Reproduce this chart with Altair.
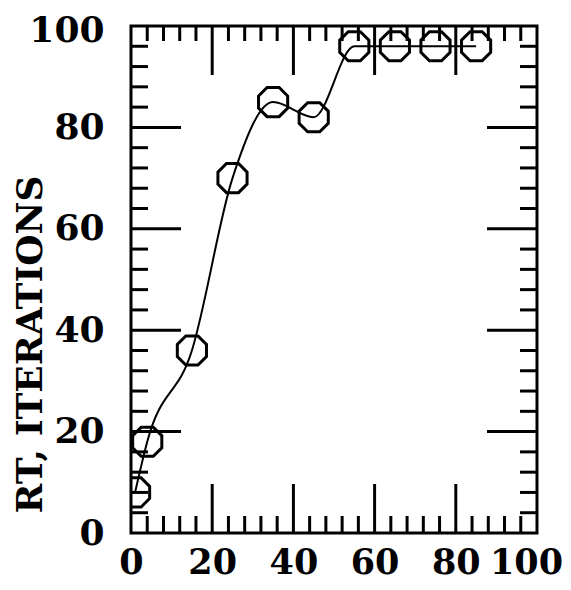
import altair as alt
import pandas as pd

# data
x_vals = [1, 4, 15, 25, 35, 45, 55, 65, 75, 85]
y_vals = [8, 18, 36, 70, 85, 82, 96, 96, 96, 96]

axis_values = [0, 20, 40, 60, 80, 100]
major_ticks = [20, 40, 60, 80]
minor_ticks = [v for v in range(4, 100, 4) if v % 20 != 0]

W, H = 406, 507

df = pd.DataFrame({"x": x_vals, "y": y_vals})
major_df = pd.DataFrame({"v": major_ticks})
minor_df = pd.DataFrame({"v": minor_ticks})

xscale = alt.Scale(domain=[0, 100], nice=False, zero=False)
yscale = alt.Scale(domain=[0, 100], nice=False, zero=False)

FONT = "DejaVu Serif"

x_axis = alt.Axis(values=axis_values, title=None, grid=False, domain=False,
                  ticks=False, tickSize=0, labelPadding=12,
                  labelFont=FONT, labelFontWeight="bold", labelFontSize=35,
                  labelColor="black", labelFlush=False, labelOverlap=False,
                  labelOffset={"condition": {"test": "datum.value == 100",
                                             "value": -11},
                               "value": 0})
y_axis = alt.Axis(values=axis_values, title="RT, ITERATIONS", grid=False,
                  domain=False, ticks=False, tickSize=0, labelPadding=27,
                  labelFont=FONT, labelFontWeight="bold", labelFontSize=36,
                  labelColor="black", labelFlush=False, labelOverlap=False,
                  labelOffset={"condition": {"test": "datum.value == 100",
                                             "value": 4},
                               "value": 0},
                  titleFont=FONT, titleFontWeight="bold", titleFontSize=36,
                  titleColor="black", titleAngle=270, titleAlign="center",
                  titleBaseline="middle", titleX=-101, titleY=318)

line = alt.Chart(df).mark_line(color="black", strokeWidth=2,
                               interpolate="monotone").encode(
    x=alt.X("x:Q", scale=xscale, axis=x_axis),
    y=alt.Y("y:Q", scale=yscale, axis=y_axis),
)

octagon = ("M-0.414,-1L0.414,-1L1,-0.414L1,0.414L0.414,1L-0.414,1"
           "L-1,0.414L-1,-0.414Z")
points = alt.Chart(df).mark_point(shape=octagon, size=850, filled=False,
                                  color="black", strokeWidth=3,
                                  clip=True, opacity=1).encode(
    x=alt.X("x:Q", scale=xscale, axis=x_axis),
    y=alt.Y("y:Q", scale=yscale, axis=y_axis),
)

def vrule(data, y0, y1):
    return alt.Chart(data).mark_rule(color="black", strokeWidth=3).encode(
        x=alt.X("v:Q", scale=xscale, axis=x_axis),
        y=alt.value(y0), y2=alt.value(y1))

def hrule(data, x0, x1):
    return alt.Chart(data).mark_rule(color="black", strokeWidth=3).encode(
        y=alt.Y("v:Q", scale=yscale, axis=y_axis),
        x=alt.value(x0), x2=alt.value(x1))

ticks = [
    vrule(major_df, H, H - 49), vrule(major_df, 0, 49),
    vrule(minor_df, H, H - 17), vrule(minor_df, 0, 15),
    hrule(major_df, 0, 50), hrule(major_df, W, W - 50),
    hrule(minor_df, 0, 17), hrule(minor_df, W, W - 17),
]

chart = alt.layer(line, *ticks, points).properties(
    width=W, height=H,
    autosize=alt.AutoSizeParams(type="none"),
    padding={"left": 123, "top": 18, "right": 26, "bottom": 49},
).configure(
    background="white",
    view=alt.ViewConfig(stroke="black", strokeWidth=3),
)

chart.save("out.html", embed_options={"renderer": "svg", "actions": False})
